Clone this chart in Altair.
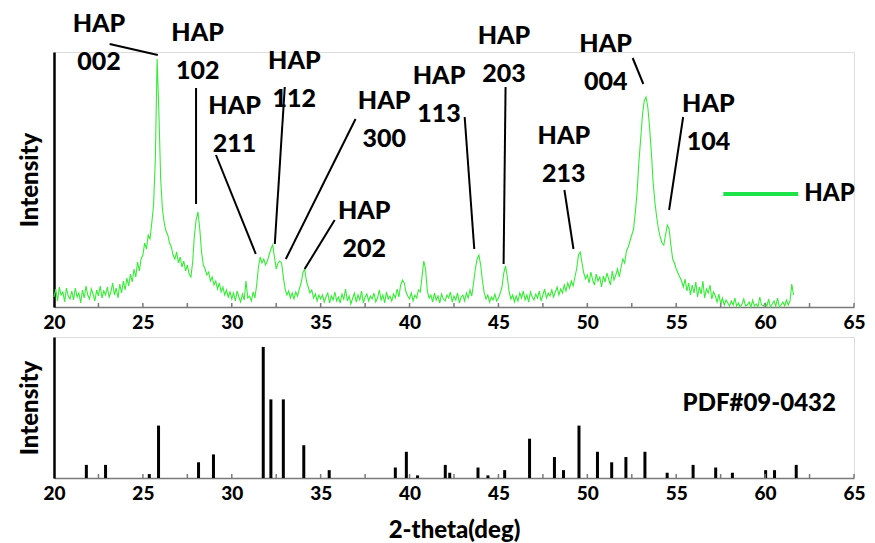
import altair as alt
import pandas as pd

# ---------------- data ----------------
# measured HAP pattern, sampled every 0.1 deg from 20.0 deg
scan_start = 20.0
scan_step = 0.1
hap_intensity = [
    10, 18, 6, 20, 12, 15, 5, 19, 11, 8,          # 20
    16, 7, 19, 10, 14, 4, 17, 9, 21, 12,          # 21
    8, 18, 13, 6, 17, 11, 21, 9, 16, 12,          # 22
    20, 10, 15, 24, 12, 19, 9, 23, 14, 26,        # 23
    17, 29, 21, 33, 25, 38, 30, 45, 36, 48,       # 24
    52, 64, 58, 72, 68, 84, 102, 148, 248, 195,   # 25
    128, 98, 84, 76, 72, 64, 60, 52, 48, 55,      # 26
    44, 50, 40, 46, 36, 42, 33, 30, 45, 72,       # 27
    88, 95, 78, 55, 42, 38, 32, 35, 26, 30,       # 28
    22, 26, 18, 24, 15, 20, 12, 17, 10, 15,       # 29
    8, 14, 6, 16, 10, 5, 13, 7, 26, 9,            # 30
    11, 6, 15, 9, 22, 40, 50, 44, 48, 42,         # 31
    46, 52, 58, 62, 50, 38, 44, 46, 44, 30,       # 32
    18, 12, 16, 9, 14, 8, 15, 11, 18, 24,         # 33
    34, 38, 26, 20, 14, 17, 9, 13, 6, 12,         # 34
    8, 12, 5, 10, 14, 4, 11, 7, 15, 6,            # 35
    10, 4, 13, 8, 18, 6, 11, 3, 9, 14,            # 36
    5, 12, 7, 16, 4, 10, 13, 6, 11, 8,            # 37
    14, 5, 9, 17, 7, 12, 4, 15, 8, 11,            # 38
    6, 13, 9, 18, 10, 22, 27, 24, 15, 11,         # 39
    8, 14, 6, 12, 9, 17, 15, 30, 46, 38,          # 40
    16, 9, 12, 5, 14, 7, 11, 4, 13, 8,            # 41
    6, 12, 9, 15, 5, 11, 7, 14, 4, 10,            # 42
    12, 6, 14, 9, 17, 11, 24, 38, 48, 52,         # 43
    42, 26, 14, 8, 12, 5, 10, 7, 13, 6,           # 44
    9, 14, 20, 34, 41, 30, 15, 8, 12, 5,          # 45
    11, 6, 14, 9, 16, 7, 12, 5, 15, 10,           # 46
    7, 13, 9, 16, 6, 12, 18, 9, 14, 11,           # 47
    17, 10, 15, 20, 12, 18, 14, 22, 16, 24,       # 48
    19, 26, 21, 30, 38, 52, 55, 44, 34, 28,       # 49
    32, 24, 35, 27, 22, 33, 26, 30, 20, 31,       # 50
    25, 34, 28, 22, 36, 27, 32, 38, 30, 40,       # 51
    48, 44, 56, 60, 66, 72, 78, 95, 115, 145,     # 52
    168, 192, 206, 210, 200, 180, 155, 125, 105, 90,  # 53
    78, 70, 64, 62, 72, 82, 78, 62, 48, 44,       # 54
    38, 34, 30, 26, 20, 28, 16, 24, 12, 22,       # 55
    14, 25, 10, 20, 13, 26, 9, 18, 14, 22,        # 56
    8, 15, 11, 5, 13, 3, 9, 2, 7, 4,              # 57
    1, 6, 2, 9, 1, 4, 0, 3, 8, 1,                 # 58
    2, 5, 0, 7, 1, 3, 0, 10, 2, 1,                # 59
    4, 1, 8, 0, 3, 6, 1, 9, 0, 2,                 # 60
    5, 1, 7, 2, 6, 23, 12,                        # 61
]
two_theta = [round(scan_start + scan_step * i, 2) for i in range(len(hap_intensity))]

# peak labels (block centre) and leader lines, in data units
peak_hkl = ["002", "102", "211", "112", "300", "202", "113", "203", "213", "004", "104"]
label_x = [22.53, 28.08, 30.16, 33.52, 38.57, 37.45, 41.66, 45.31, 48.68, 51.03, 56.81]
label_y = [264, 255, 182, 227, 187, 77, 212, 252, 152, 244, 184]
leader_x1 = [23.13, 27.99, 29.11, 32.98, 36.96, 35.79, 43.10, 45.40, 48.71, 52.55, 55.39]
leader_y1 = [263, 219, 152, 220, 188, 87, 190, 220, 117, 249, 190]
leader_x2 = [25.84, 27.99, 31.35, 32.42, 33.04, 34.10, 43.64, 45.29, 49.22, 53.15, 54.60]
leader_y2 = [252, 103, 53, 63, 48, 38, 58, 43, 58, 223, 97]

# reference card PDF#09-0432 stick pattern
pdf_pos = [21.82, 22.90, 25.36, 25.88, 28.13, 28.97, 31.77, 32.20, 32.90, 34.05,
           35.48, 39.20, 39.82, 40.45, 42.01, 42.26, 43.85, 44.41, 45.35, 46.75,
           48.15, 48.66, 49.53, 50.57, 51.37, 52.17, 53.24, 54.49, 55.95, 57.22,
           58.16, 60.03, 60.53, 61.75]
pdf_int = [10, 10, 3, 40, 12, 18, 100, 60, 60, 25,
           6, 8, 20, 2, 10, 4, 8, 2, 6, 30,
           16, 6, 40, 20, 12, 16, 20, 4, 10, 8,
           4, 6, 6, 10]

x_label_values = [20, 25, 30, 35, 40, 45, 50, 55, 60, 65]
x_tick_values = [22.5, 25, 27.5, 30, 32.5, 35, 37.5, 40, 42.5, 45, 47.5, 50,
                 52.5, 55, 57.5, 60, 62.5, 65]

# ---------------- chart ----------------
W = 800
H_TOP = 255
H_BOT = 141
FONT = "Lato"
HEAVY = 900
GREEN = "#33ee33"
LEG_GREEN = "#1ee348"
AX_GREY = "#7a7a7a"

xscale = alt.Scale(domain=[20, 65], nice=False, zero=False)
ytop_scale = alt.Scale(domain=[0, 255], nice=False)
ybot_scale = alt.Scale(domain=[0, 107.6], nice=False)


def x_axis(title=None, pad=6):
    kw = dict(values=x_label_values, ticks=False, tickSize=0, grid=False,
              labelFont=FONT, labelFontWeight=HEAVY, labelFontSize=19,
              labelColor="black", labelPadding=pad, labelFlush=False,
              domainColor=AX_GREY, domainWidth=1.5)
    if title:
        kw.update(title=title, titleFont=FONT, titleFontWeight=HEAVY,
                  titleFontSize=24, titleColor="black", titlePadding=15)
    else:
        kw.update(title=None)
    return alt.Axis(**kw)


def y_axis():
    return alt.Axis(title="Intensity", labels=False, ticks=False, tickSize=0,
                    grid=False, domainColor="black", domainWidth=2.5,
                    titleFont=FONT, titleFontWeight=HEAVY, titleFontSize=24,
                    titleColor="black", titlePadding=12)


scan_df = pd.DataFrame({"two_theta": two_theta, "intensity": hap_intensity})
lab_df = pd.DataFrame({"x": label_x, "y": label_y, "hkl": peak_hkl, "name": ["HAP"] * len(peak_hkl)})
lead_df = pd.DataFrame({"x1": leader_x1, "y1": leader_y1, "x2": leader_x2, "y2": leader_y2})
tick_df = pd.DataFrame({"t": x_tick_values})
pdf_df = pd.DataFrame({"pos": pdf_pos, "rel": pdf_int})

line = alt.Chart(scan_df).mark_line(color=GREEN, strokeWidth=1.1).encode(
    x=alt.X("two_theta:Q", scale=xscale, axis=x_axis()),
    y=alt.Y("intensity:Q", scale=ytop_scale, axis=y_axis()),
)

leaders = alt.Chart(lead_df).mark_rule(color="black", strokeWidth=2).encode(
    x="x1:Q", y="y1:Q", x2="x2:Q", y2="y2:Q"
)

txt_style = dict(font=FONT, fontWeight=HEAVY, fontSize=25, color="black",
                 align="center", baseline="middle")
hap_txt = alt.Chart(lab_df).mark_text(dy=-19, **txt_style).encode(
    x="x:Q", y="y:Q", text="name:N")
hkl_txt = alt.Chart(lab_df).mark_text(dy=19, **txt_style).encode(
    x="x:Q", y="y:Q", text="hkl:N")

leg_df = pd.DataFrame({"x1": [57.65], "x2": [61.86], "y": [113], "tx": [62.2], "label": ["HAP"]})
leg_line = alt.Chart(leg_df).mark_rule(color=LEG_GREEN, strokeWidth=4).encode(
    x="x1:Q", x2="x2:Q", y="y:Q")
leg_text = alt.Chart(leg_df).mark_text(font=FONT, fontWeight=HEAVY, fontSize=24,
                                       color="black", align="left", baseline="middle").encode(
    x="tx:Q", y="y:Q", text="label:N")

ticks_top = alt.Chart(tick_df).mark_rule(color=AX_GREY, strokeWidth=1.5).encode(
    x="t:Q", y=alt.value(H_TOP), y2=alt.value(H_TOP - 4))

top = alt.layer(line, leaders, hap_txt, hkl_txt, leg_line, leg_text, ticks_top).properties(
    width=W, height=H_TOP)

sticks = alt.Chart(pdf_df).mark_rule(color="black", strokeWidth=3).encode(
    x=alt.X("pos:Q", scale=xscale, axis=x_axis("2-theta(deg)", pad=6)),
    y=alt.Y("rel:Q", scale=ybot_scale, axis=y_axis()),
    y2=alt.datum(0),
)
card_df = pd.DataFrame({"x": [59.67], "y": [56.5], "label": ["PDF#09-0432"]})
card = alt.Chart(card_df).mark_text(font=FONT, fontWeight=HEAVY, fontSize=24,
                                    color="black", align="center", baseline="middle").encode(
    x="x:Q", y="y:Q", text="label:N")
ticks_bot = alt.Chart(tick_df).mark_rule(color=AX_GREY, strokeWidth=1.5).encode(
    x="t:Q", y=alt.value(H_BOT), y2=alt.value(H_BOT - 4))

bottom = alt.layer(sticks, card, ticks_bot).properties(width=W, height=H_BOT)

chart = alt.vconcat(top, bottom, spacing=30, bounds="flush").properties(
    padding={"left": 9, "top": 3, "right": 0, "bottom": 0}
).configure_view(stroke=None).configure(background="white")

chart.save("out.html", embed_options={"renderer": "svg", "actions": False})
